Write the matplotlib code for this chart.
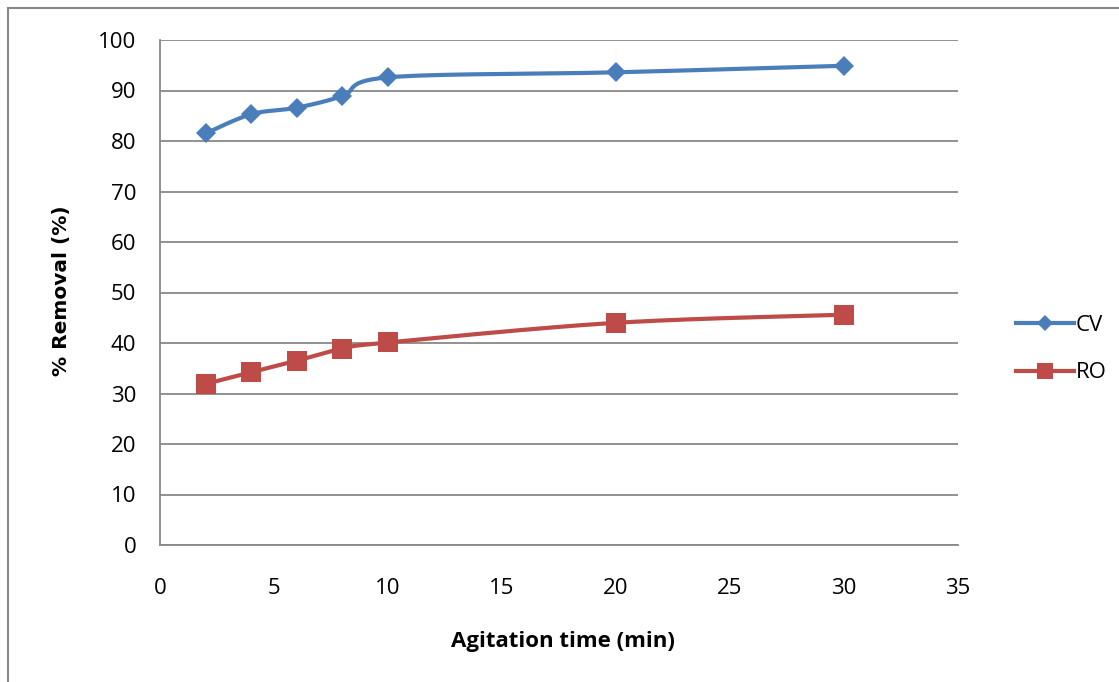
import numpy as np
import matplotlib; matplotlib.use("Agg")
import matplotlib.pyplot as plt
from matplotlib.patches import Rectangle

# agitation time (min) and % removal for the two dyes
time_min = [2, 4, 6, 8, 10, 20, 30]
cv_removal = [81.5, 85.3, 86.6, 88.9, 92.6, 93.6, 94.9]
ro_removal = [31.9, 34.2, 36.5, 38.9, 40.1, 44.0, 45.6]
series_names = ["CV", "RO"]
x_ticks = [0, 5, 10, 15, 20, 25, 30, 35]
y_ticks = list(range(0, 101, 10))

BLUE = "#4a7ebb"
RED = "#be4b48"
GRID = "#888888"
FONT = "Open Sans"


def smooth(x, y, xr, yr, n=30):
    """Excel-like smoothed line: cubic Bezier through points, tangents from neighbours."""
    p = np.column_stack([np.asarray(x, float) / xr, np.asarray(y, float) / yr])
    out = [p[0]]
    for i in range(len(p) - 1):
        p0 = p[i - 1] if i > 0 else p[i]
        p3 = p[i + 2] if i + 2 < len(p) else p[i + 1]
        c1 = p[i] + (p[i + 1] - p0) / 6
        c2 = p[i + 1] - (p3 - p[i]) / 6
        t = np.linspace(0, 1, n)[1:, None]
        seg = ((1 - t) ** 3 * p[i] + 3 * (1 - t) ** 2 * t * c1
               + 3 * (1 - t) * t ** 2 * c2 + t ** 3 * p[i + 1])
        out.extend(seg)
    out = np.array(out)
    return out[:, 0] * xr, out[:, 1] * yr


fig = plt.figure(figsize=(11.19, 6.82), dpi=100)
ax = fig.add_axes([160 / 1119, 1 - 545 / 682, 798 / 1119, 505 / 682])

# axis spans 35 x 100, plot box is 798 x 505 px -> smooth in screen proportions
for ys, col, mk, ms, lms, name in [(cv_removal, BLUE, "D", 10, 8.5, series_names[0]),
                                   (ro_removal, RED, "s", 14, 12, series_names[1])]:
    sx, sy = smooth(time_min, ys, 35 / 798, 100 / 505)
    ax.plot(sx, sy, color=col, lw=3, solid_capstyle="round", zorder=3)
    ax.plot(time_min, ys, ls="none", marker=mk, ms=ms, color=col,
            markeredgewidth=0, zorder=4)
    ax.plot([], [], color=col, lw=3, marker=mk, ms=lms,
            markeredgewidth=0, label=name)

ax.set_xlim(0, 35)
ax.set_ylim(0, 100)
ax.set_xticks(x_ticks)
ax.set_yticks(y_ticks)
ax.tick_params(length=0)
ax.tick_params(axis="x", pad=24)
ax.tick_params(axis="y", pad=17)
for lab in ax.get_xticklabels() + ax.get_yticklabels():
    lab.set_fontfamily(FONT)
    lab.set_fontsize(16)

ax.grid(axis="y", color=GRID, lw=1.3)
ax.set_axisbelow(True)
for s in ("top", "right"):
    ax.spines[s].set_visible(False)
for s in ("left", "bottom"):
    ax.spines[s].set_color(GRID)
    ax.spines[s].set_linewidth(1.3)

fig.text(563 / 1119, 1 - 641 / 682, "Agitation time (min)", ha="center", va="center",
         fontsize=16, fontweight="bold", family=FONT)
fig.text(62 / 1119, 1 - 291 / 682, "% Removal (%)", ha="center", va="center",
         rotation=90, fontsize=14.5, fontweight="bold", family="DejaVu Sans")

ax.legend(loc="center left", bbox_to_anchor=(996 / 1119, 1 - 349 / 682),
          bbox_transform=fig.transFigure, frameon=False, handlelength=2.6,
          handletextpad=0.1, labelspacing=1.2, prop={"family": FONT, "size": 16})

# chart area border
fig.patches.append(Rectangle((8 / 1119, -0.1), 1.2, 1 - 8 / 682 + 0.1,
                             transform=fig.transFigure, fill=False,
                             edgecolor=GRID, lw=1.5))

fig.savefig("out.png", dpi=100)
